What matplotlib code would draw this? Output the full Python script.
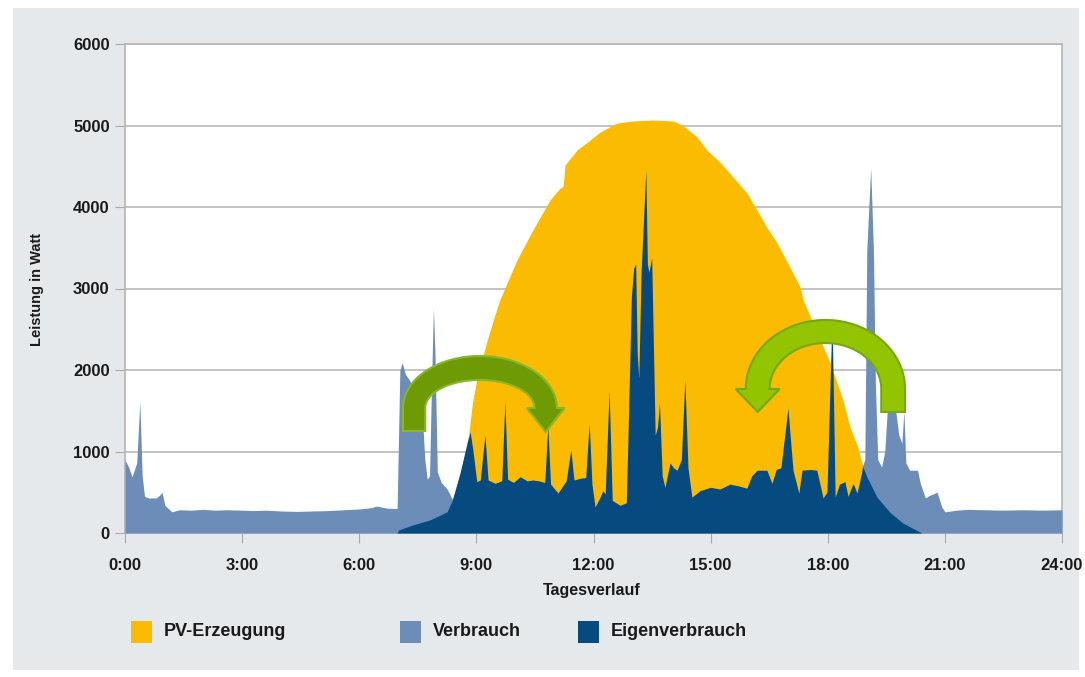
import matplotlib
matplotlib.use("Agg")
import matplotlib.pyplot as plt
from matplotlib.patches import Rectangle, Polygon
import numpy as np

# hours of day / watts
pv_t = [6.95, 7.3, 7.8, 8.2, 8.4, 8.6, 8.8, 8.9, 9.04, 9.27, 9.43, 9.6, 10.04, 10.45,
        10.89, 11.14, 11.22, 11.27, 11.58, 11.91, 12.17, 12.6, 13.0, 13.52, 14.04, 14.29,
        14.65, 14.9, 15.24, 15.57, 15.93, 16.19, 16.44, 16.7, 17.03, 17.29, 17.37, 17.72,
        18.06, 18.39, 18.57, 18.75, 18.9, 19.2, 19.6, 20.0]
pv_w = [0, 80, 160, 260, 420, 750, 1200, 1600, 1960, 2350, 2610, 2860, 3350, 3720,
        4090, 4230, 4250, 4515, 4700, 4820, 4920, 5030, 5055, 5067, 5055, 5000,
        4860, 4700, 4550, 4370, 4170, 3960, 3750, 3560, 3260, 3020, 2860, 2470,
        2090, 1630, 1300, 1080, 820, 430, 150, 0]

verbrauch_t = [0.0, 0.1, 0.18, 0.3, 0.38, 0.44, 0.5, 0.6, 0.8, 0.9, 0.95, 1.02, 1.2, 1.4,
               1.7, 2.0, 2.3, 2.6, 3.0, 3.3, 3.6, 4.0, 4.4, 4.8, 5.2, 5.6, 6.0, 6.3, 6.45,
               6.7, 6.97, 7.04, 7.1, 7.18, 7.28, 7.38, 7.46, 7.55, 7.62, 7.68, 7.74, 7.8,
               7.85, 7.9, 7.94, 8.0, 8.1, 8.25, 8.38, 8.5, 18.8, 18.88, 18.95, 19.0, 19.1,
               19.17, 19.22, 19.28, 19.38, 19.46, 19.55, 19.7, 19.82, 19.9, 19.95, 20.0,
               20.1, 20.3, 20.37, 20.5, 20.6, 20.8, 20.92, 21.0, 21.3, 21.6, 22.0, 22.5,
               23.0, 23.5, 24.0]
verbrauch_w = [900, 800, 690, 860, 1610, 700, 450, 430, 430, 470, 500, 340, 260, 285,
               280, 290, 280, 285, 280, 275, 280, 270, 265, 270, 275, 285, 295, 310, 330,
               305, 300, 2000, 2090, 1950, 1880, 1790, 1820, 1700, 1400, 900, 660, 700,
               1800, 2760, 2200, 750, 620, 540, 420, 300, 300, 810, 900, 3470, 4480,
               3470, 1840, 900, 810, 1000, 1700, 1650, 1200, 1100, 1500, 860,
               770, 770, 610, 430, 460, 500, 320, 260, 280, 290, 285, 280,
               285, 280, 285]

eigen_t = [6.97, 7.0, 7.38, 7.81, 8.25, 8.38, 8.58, 8.76, 8.84, 8.91, 9.01, 9.1, 9.17,
           9.22, 9.3, 9.48, 9.65, 9.73, 9.8, 9.95, 10.12, 10.3, 10.45, 10.6, 10.75, 10.83,
           10.9, 11.09, 11.3, 11.42, 11.5, 11.65, 11.8, 11.89, 11.96, 12.04, 12.15, 12.24,
           12.3, 12.4, 12.48, 12.68, 12.84, 12.9, 12.97, 13.03, 13.08, 13.12, 13.16, 13.22,
           13.34, 13.38, 13.42, 13.49, 13.58, 13.64, 13.69, 13.76, 13.83, 13.96, 14.05,
           14.14, 14.25, 14.34, 14.42, 14.52, 14.73, 15.0, 15.24, 15.5, 15.7, 15.93, 16.05,
           16.19, 16.44, 16.57, 16.68, 16.8, 16.98, 17.11, 17.26, 17.34, 17.55, 17.72,
           17.88, 17.98, 18.11, 18.19, 18.3, 18.44, 18.52, 18.65, 18.75, 18.9, 19.0,
           19.26, 19.6, 19.93, 20.41]
eigen_w = [0, 35, 100, 160, 260, 400, 735, 1100, 1240, 1020, 630, 650, 980,
           1200, 650, 610, 640, 1610, 660, 620, 690, 640, 650, 640, 620, 1300,
           600, 490, 640, 1020, 650, 670, 680, 1350, 600, 320, 420, 520,
           480, 1750, 400, 340, 370, 1500, 2900, 3250, 3300, 2200, 1900, 3200,
           4450, 3300, 3200, 3380, 1200, 1300, 1590, 700, 560, 860, 800,
           770, 900, 1880, 800, 440, 520, 560, 540, 600, 580, 550, 700,
           770, 770, 610, 780, 800, 1530, 770, 490, 770, 780, 770,
           430, 500, 2670, 440, 600, 630, 450, 610, 490, 810, 690,
           440, 250, 120, 0]

hour_ticks = [0, 3, 6, 9, 12, 15, 18, 21, 24]
hour_labels = ["0:00", "3:00", "6:00", "9:00", "12:00", "15:00", "18:00", "21:00", "24:00"]
watt_ticks = [0, 1000, 2000, 3000, 4000, 5000, 6000]

legend_labels = ["PV-Erzeugung", "Verbrauch", "Eigenverbrauch"]
legend_colors = ["#fbbb00", "#6c8db8", "#074a80"]


def curved_arrow(cx, cy, rxo, ryo, rxi, ryi, drop, ext, hlen, side):
    # side=+1: tail left, head right; side=-1: mirrored
    th = np.linspace(np.pi, 0, 60)
    outer = np.column_stack([cx + side * rxo * np.cos(th), cy + ryo * np.sin(th)])
    inner = np.column_stack([cx + side * rxi * np.cos(th[::-1]), cy + ryi * np.sin(th[::-1])])
    pts = [(cx - side * rxo, cy - drop)]
    pts += outer.tolist()
    pts += [(cx + side * (rxo + ext), cy), (cx + side * (rxo + rxi) / 2, cy - hlen),
            (cx + side * (rxi - ext), cy)]
    pts += inner.tolist()
    pts += [(cx - side * rxi, cy - drop)]
    return pts


plt.rcParams['font.family'] = ['Liberation Sans', 'DejaVu Sans']
fig = plt.figure(figsize=(10.85, 6.77), dpi=100)
W, H = 1085, 677
fig.patches.append(Rectangle((13 / W, 1 - 670 / H), 1066 / W, 662 / H,
                             transform=fig.transFigure, facecolor="#e6e9ec",
                             edgecolor="none", zorder=-10))
ax = fig.add_axes([125 / W, 1 - 533 / H, 937 / W, 489 / H])
ax.set_facecolor("white")

ax.fill_between(pv_t, pv_w, color=legend_colors[0], lw=0, zorder=2)
ax.fill_between(verbrauch_t, verbrauch_w, color=legend_colors[1], lw=0, zorder=3)
ax.fill_between(eigen_t, eigen_w, color=legend_colors[2], lw=0, zorder=4)

ax.add_patch(Polygon(curved_arrow(9.09, 1534, 1.97, 638, 1.40, 344, 282, 0.2, 295, 1),
                     closed=True, facecolor="#6e9a04", edgecolor="#86b82a", lw=1.5, zorder=6))
ax.add_patch(Polygon(curved_arrow(17.94, 1767, 2.04, 847, 1.43, 564, 282, 0.26, 282, -1),
                     closed=True, facecolor="#92c400", edgecolor="#76a816", lw=1.5, zorder=6))

ax.set_xlim(0, 24)
ax.set_ylim(0, 6000)
ax.set_xticks(hour_ticks)
ax.set_xticklabels(hour_labels)
ax.set_yticks(watt_ticks)
ax.set_axisbelow(True)
ax.yaxis.grid(True, color="#b9b9b9", lw=1.2)
for s in ax.spines.values():
    s.set_color("#b5b5b5")
    s.set_linewidth(1.2)
ax.tick_params(axis="y", length=7, color="#aaaaaa", pad=4, labelsize=12, labelcolor="#1a1a1a")
ax.tick_params(axis="x", length=7, color="#aaaaaa", pad=11, labelsize=12, labelcolor="#1a1a1a")
for lab in ax.get_xticklabels() + ax.get_yticklabels():
    lab.set_fontweight("bold")

fig.text(37 / W, 1 - 290 / H, "Leistung in Watt", rotation=90, ha="center", va="center",
         fontsize=10.5, fontweight="bold", color="#1a1a1a")
fig.text(592 / W, 1 - 591 / H, "Tagesverlauf", ha="center", va="center",
         fontsize=11.5, fontweight="bold", color="#1a1a1a")

sq_x = [131, 400, 578]
for x0, lab, col in zip(sq_x, legend_labels, legend_colors):
    fig.patches.append(Rectangle((x0 / W, 1 - 643 / H), 21 / W, 22 / H,
                                 transform=fig.transFigure, facecolor=col, edgecolor="none"))
    fig.text((x0 + 33) / W, 1 - 632 / H, lab, ha="left", va="center", fontsize=13,
             family=['Liberation Sans Narrow', 'Liberation Sans', 'DejaVu Sans'],
             fontweight="bold", color="#1a1a1a")

fig.savefig("out.png", dpi=100)
